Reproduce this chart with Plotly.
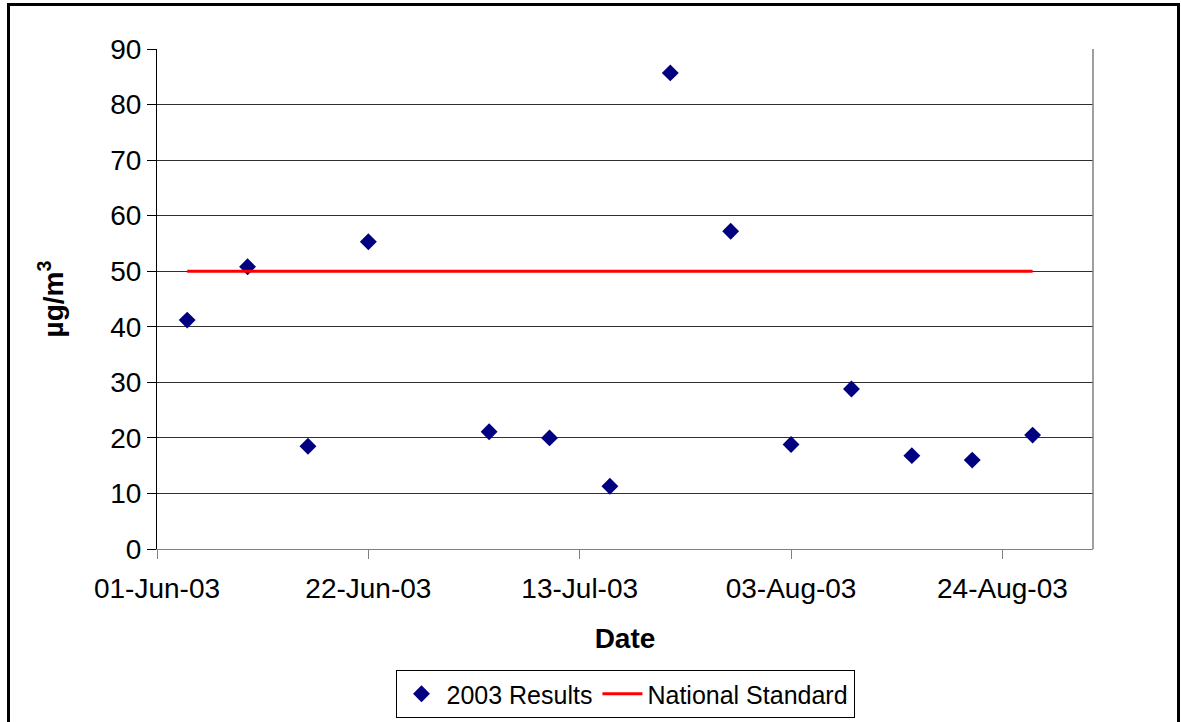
import plotly.graph_objects as go

dates = ['2003-06-04', '2003-06-10', '2003-06-16', '2003-06-22', '2003-07-04',
         '2003-07-10', '2003-07-16', '2003-07-22', '2003-07-28', '2003-08-03',
         '2003-08-09', '2003-08-15', '2003-08-21', '2003-08-27']
results = [41.2, 50.8, 18.5, 55.3, 21.1, 20.0, 11.3, 85.7, 57.2, 18.8, 28.8, 16.8, 16.0, 20.5]
standard = [50] * len(dates)

tick_dates = ['2003-06-01', '2003-06-22', '2003-07-13', '2003-08-03', '2003-08-24']
tick_labels = ['01-Jun-03', '22-Jun-03', '13-Jul-03', '03-Aug-03', '24-Aug-03']

W, H = 1181, 722
L, R, T, B = 157, 1093, 49, 549
pw, ph = R - L, B - T

font = "Liberation Sans, Arial, sans-serif"

fig = go.Figure()
fig.add_trace(go.Scatter(
    x=dates, y=results, mode='markers', name='2003 Results',
    marker=dict(symbol='diamond', size=13, color='#000080', line=dict(width=0)),
))
fig.add_trace(go.Scatter(
    x=dates, y=standard, mode='lines', name='National Standard',
    line=dict(color='#FF0000', width=3),
))

def px_x(p):
    return (p - L) / pw

def px_y(p):
    return (B - p) / ph

fig.update_layout(
    width=W, height=H,
    margin=dict(l=L, r=W - R, t=T, b=H - B, autoexpand=False),
    paper_bgcolor='white', plot_bgcolor='white',
    font=dict(family=font, color='black', size=28),
    showlegend=True,
    legend=dict(
        orientation='h', x=0.5, xanchor='center', y=px_y(694), yanchor='middle',
        bordercolor='black', borderwidth=1, bgcolor='white',
        font=dict(size=25, family=font), itemwidth=40, tracegroupgap=0,
    ),
    xaxis=dict(
        type='date', range=['2003-06-01', '2003-09-02'],
        tickvals=tick_dates, ticktext=tick_labels,
        ticks='outside', ticklen=9, tickcolor='#808080', tickwidth=1,
        ticklabelstandoff=5,
        showgrid=False, showline=True, linecolor='#808080', linewidth=1,
        mirror=False, zeroline=False,
        tickfont=dict(size=28),
        title=dict(text='<b>Date</b>', font=dict(size=28), standoff=25),
    ),
    yaxis=dict(
        range=[0, 90], dtick=10, tick0=0,
        ticks='outside', ticklen=9, tickcolor='black', tickwidth=1,
        showgrid=True, gridcolor='#303030', gridwidth=1,
        showline=True, linecolor='black', linewidth=1, zeroline=False,
        tickfont=dict(size=28),
        title=dict(text='<b>µg/m<sup>3</sup></b>', font=dict(size=28), standoff=38),
    ),
    shapes=[
        dict(type='line', xref='paper', yref='paper', x0=1, x1=1, y0=0, y1=1,
             line=dict(color='#808080', width=1.5)),
        dict(type='rect', xref='paper', yref='paper',
             x0=px_x(8.5), x1=px_x(1178.5), y0=px_y(4.5), y1=px_y(740),
             line=dict(color='black', width=3), fillcolor='rgba(0,0,0,0)', layer='above'),
    ],
)

fig.write_html("out.html")
